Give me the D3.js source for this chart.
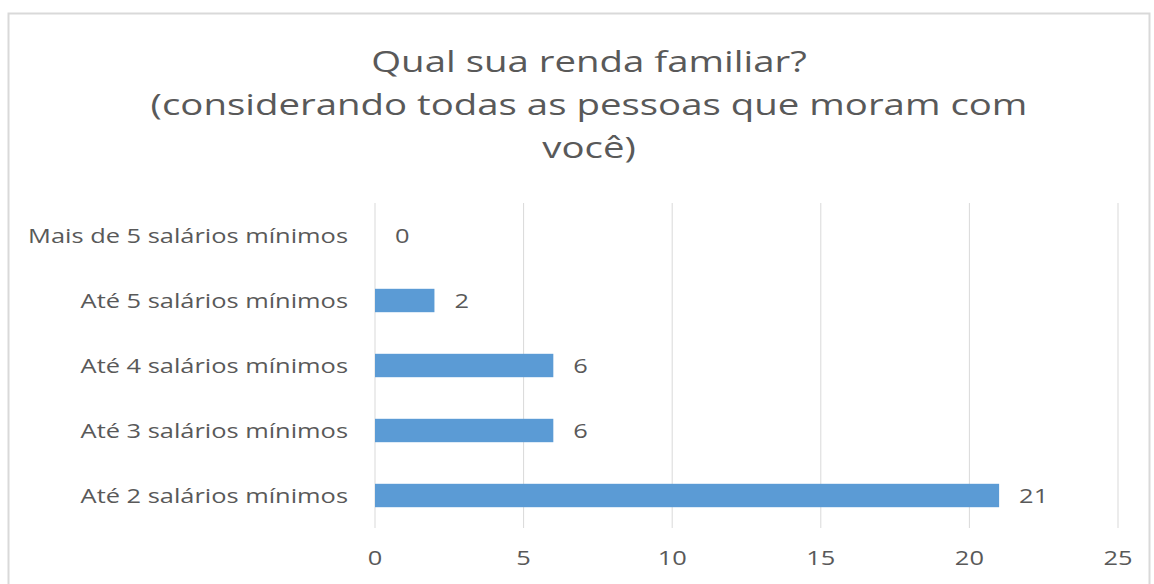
<!DOCTYPE html>
<html>
<head>
<meta charset="utf-8">
<script src="https://cdn.jsdelivr.net/npm/d3@7"></script>
<style>
    body { margin: 0; background: #fff; }
    text { font-family: "Open Sans", sans-serif; fill: #595959; }
</style>
</head>
<body>
<svg id="chart" width="1154" height="584"></svg>
<script>
// Data
const titleLines = ["Qual sua renda familiar?", "(considerando todas as pessoas que moram com", "você)"];
const categories = ["Mais de 5 salários mínimos", "Até 5 salários mínimos", "Até 4 salários mínimos", "Até 3 salários mínimos", "Até 2 salários mínimos"];
const values = [0, 2, 6, 6, 21];
const xTicks = [0, 5, 10, 15, 20, 25];

// the original picture is stretched sideways
const stretch = 1.27;

const svg = d3.select("#chart");

// chart border
svg.append("rect")
    .attr("x", 8.5).attr("y", 13.5)
    .attr("width", 1141).attr("height", 600)
    .attr("fill", "none")
    .attr("stroke", "#d9d9d9")
    .attr("stroke-width", 2);

// title
svg.append("g")
    .selectAll("text")
    .data(titleLines)
    .enter()
    .append("text")
    .attr("transform", function(d, i) { return "translate(589," + (72 + i * 43) + ") scale(" + (stretch + 0.01) + ",1)"; })
    .attr("text-anchor", "middle")
    .attr("font-size", 30)
    .text(function(d) { return d; });

const x = d3.scaleLinear().domain([0, 25]).range([375, 1118]);
const y = d3.scaleBand().domain(categories).range([203, 528]).paddingInner(0.64).paddingOuter(0.32);

// gridlines
svg.append("g")
    .selectAll("line")
    .data(xTicks)
    .enter()
    .append("line")
    .attr("x1", function(d) { return x(d); })
    .attr("x2", function(d) { return x(d); })
    .attr("y1", 203)
    .attr("y2", 528)
    .attr("stroke", "#d9d9d9")
    .attr("stroke-width", 1);

// x tick labels
svg.append("g")
    .selectAll("text")
    .data(xTicks)
    .enter()
    .append("text")
    .attr("transform", function(d) { return "translate(" + x(d) + ",565) scale(" + stretch + ",1)"; })
    .attr("text-anchor", "middle")
    .attr("font-size", 20)
    .text(function(d) { return d; });

// category labels
svg.append("g")
    .selectAll("text")
    .data(categories)
    .enter()
    .append("text")
    .attr("transform", function(d) { return "translate(348," + (y(d) + y.bandwidth() / 2) + ") scale(" + stretch + ",1)"; })
    .attr("dy", "0.35em")
    .attr("text-anchor", "end")
    .attr("font-size", 20)
    .text(function(d) { return d; });

// bars
svg.append("g")
    .selectAll("rect")
    .data(values)
    .enter()
    .append("rect")
    .attr("x", x(0))
    .attr("y", function(d, i) { return y(categories[i]); })
    .attr("width", function(d) { return x(d) - x(0); })
    .attr("height", y.bandwidth())
    .attr("fill", "#5b9bd5");

// value labels
svg.append("g")
    .selectAll("text")
    .data(values)
    .enter()
    .append("text")
    .attr("transform", function(d, i) { return "translate(" + (x(d) + 20) + "," + (y(categories[i]) + y.bandwidth() / 2) + ") scale(" + stretch + ",1)"; })
    .attr("dy", "0.35em")
    .attr("font-size", 20)
    .text(function(d) { return d; });
</script>
</body>
</html>
